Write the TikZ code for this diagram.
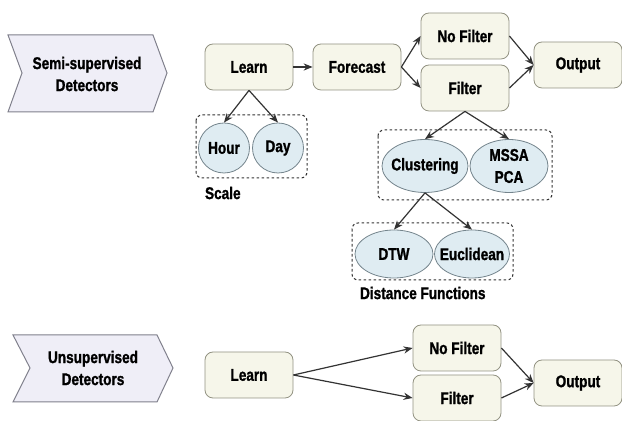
\documentclass[tikz,border=0pt]{standalone}
\usepackage{fontspec}
\setmainfont{Liberation Sans}[FakeStretch=0.8,BoldFeatures={FakeBold=1.2}]
\usetikzlibrary{arrows.meta,shapes.geometric}
\definecolor{boxfill}{HTML}{F6F6EA}
\definecolor{boxedge}{HTML}{929282}
\definecolor{ovalfill}{HTML}{DFECF2}
\definecolor{ovaledge}{HTML}{74848C}
\definecolor{chevfill}{HTML}{EFEEF7}
\definecolor{chevedge}{HTML}{80808C}
\definecolor{linkgray}{HTML}{333333}
\begin{document}
\begin{tikzpicture}[x=0.5pt,y=-0.5pt,
  font=\fontsize{8.5}{11}\selectfont\bfseries,
  block/.style={draw=boxedge,fill=boxfill,rounded corners=4pt,minimum width=44pt,minimum height=23pt,inner sep=1pt},
  oval/.style={ellipse,draw=ovaledge,fill=ovalfill,inner sep=0pt},
  group/.style={draw=linkgray,line width=0.5pt,dash pattern=on 1.3pt off 1.2pt,rounded corners=3pt},
  chev/.style={draw=chevedge,fill=chevfill,line width=0.5pt},
  link/.style={draw=linkgray,line width=0.6pt,-{Stealth[length=4.5pt,width=3.6pt]}}]
\useasboundingbox (0,0) rectangle (622,421);
\draw[chev] (8,35) -- (153,35) -- (167,73) -- (153,112) -- (8,112) -- (22,73) -- cycle;
\node[align=center] (semi) at (87,74) {Semi-supervised\\Detectors};
\draw[chev] (13,335) -- (157,335) -- (173,368) -- (157,402) -- (13,402) -- (30,368) -- cycle;
\node[align=center] (unsup) at (93,368) {Unsupervised\\Detectors};
\draw[group] (196,115) rectangle (307,178);
\draw[group] (378,130) rectangle (552,200);
\draw[group] (352,223) rectangle (513,280);
\node[block] (learnA) at (249,67) {Learn};
\node[block] (forecast) at (357,67) {Forecast};
\node[block] (nofilterA) at (465,36) {No Filter};
\node[block] (filterA) at (465,88) {Filter};
\node[block] (outputA) at (578,65) {Output};
\node[oval,minimum width=25.5pt,minimum height=25pt,label=center:Hour] (hour) at (224,148) {};
\node[oval,minimum width=25.5pt,minimum height=25pt,label=center:Day] (day) at (278,148) {};
\node[anchor=west] (scale) at (198,193) {Scale};
\node[oval,minimum width=43pt,minimum height=26.5pt,label=center:Clustering] (clustering) at (425,166) {};
\node[oval,minimum width=39pt,minimum height=26.5pt,label={[align=center]center:MSSA\\PCA}] (mssa) at (509,166) {};
\node[oval,minimum width=39pt,minimum height=24pt,label=center:DTW] (dtw) at (394,254) {};
\node[oval,minimum width=37.5pt,minimum height=24pt,label=center:Euclidean] (euclid) at (472,254) {};
\node[anchor=west] (distance) at (353,293) {Distance Functions};
\node[block] (learnB) at (249,375) {Learn};
\node[block] (nofilterB) at (457,348) {No Filter};
\node[block] (filterB) at (457,398) {Filter};
\node[block] (outputB) at (578,383) {Output};
\draw[link] (learnA) -- (forecast);
\draw[link] (forecast.east) -- (nofilterA.west);
\draw[link] (forecast.east) -- (filterA.west);
\draw[link] (nofilterA.east) -- (outputA.west);
\draw[link] (filterA.east) -- (outputA.west);
\draw[link] (learnA.south) -- (hour.north);
\draw[link] (learnA.south) -- (day.north);
\draw[link] (filterA.south) -- (clustering.north);
\draw[link] (filterA.south) -- (mssa.north);
\draw[link] (clustering.south) -- (dtw.north);
\draw[link] (clustering.south) -- (euclid.north);
\draw[link] (learnB.east) -- (nofilterB.west);
\draw[link] (learnB.east) -- (filterB.west);
\draw[link] (nofilterB.east) -- (outputB.west);
\draw[link] (filterB.east) -- (outputB.west);
\end{tikzpicture}
\end{document}
